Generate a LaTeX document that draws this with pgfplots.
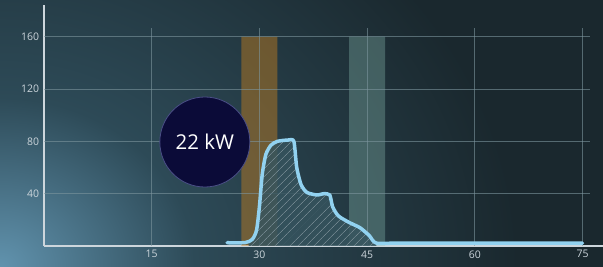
\documentclass[border=0pt]{standalone}
\usepackage{pgfplots}
\pgfplotsset{compat=1.18}
\usepackage{fontspec}
\setmainfont{Open Sans}
\usetikzlibrary{patterns.meta}
\definecolor{bgdark}{HTML}{1A282E}
\definecolor{bgmid}{HTML}{2D4A57}
\definecolor{bglight}{HTML}{6193AE}
\definecolor{gridc}{HTML}{7D969E}
\definecolor{tickc}{HTML}{CDD6DC}
\definecolor{curve}{HTML}{92D2F0}
\definecolor{bubble}{HTML}{0B0B38}
\definecolor{bubbleedge}{HTML}{4A4E86}
\definecolor{bandO}{HTML}{C8801E}
\definecolor{bandG}{HTML}{8FC2B6}
\definecolor{hatchfill}{HTML}{36545E}
\definecolor{hatch}{HTML}{7A8E96}
\pgfdeclareradialshading{bgshade}{\pgfpoint{0bp}{0bp}}{color(0bp)=(bglight); color(9bp)=(bgmid); color(24bp)=(bgdark); color(50bp)=(bgdark)}
\begin{document}
\begin{tikzpicture}
\useasboundingbox (0,0) rectangle (603bp,267bp);
\fill[bgdark] (0,0) rectangle (603bp,267bp);
\begin{scope}
\clip (0,0) rectangle (603bp,267bp);
\shade[shading=bgshade] (0,0) ellipse (540bp and 470bp);
\end{scope}
\begin{axis}[
  scale only axis, width=558.6bp, height=240.7bp,
  at={(44bp,21bp)}, anchor=south west,
  xmin=0, xmax=77.8, ymin=0, ymax=184,
  axis x line=bottom, axis y line=left,
  axis line style={-, draw=tickc, line width=1.3bp},
  xtick={15,30,45,60,75}, ytick={40,80,120,160},
  major tick length=0pt,
  tick label style={font=\fontsize{10.5}{12}\selectfont, text=tickc},
  /pgf/number format/assume math mode=true,
  xticklabel style={yshift=-1bp},
  yticklabel style={xshift=-1.5bp},
]
% bands
\addplot[draw=none, fill=bandO, fill opacity=0.45] coordinates {(27.5,0)(27.5,160)(32.5,160)(32.5,0)} \closedcycle;
\addplot[draw=none, fill=bandG, fill opacity=0.33] coordinates {(42.5,0)(42.5,160)(47.5,160)(47.5,0)} \closedcycle;
% grid
\draw[gridc, line width=0.8bp, opacity=0.6] (axis cs:0,40) -- (axis cs:76,40);
\draw[gridc, line width=0.8bp, opacity=0.6] (axis cs:0,80) -- (axis cs:76,80);
\draw[gridc, line width=0.8bp, opacity=0.6] (axis cs:0,120) -- (axis cs:76,120);
\draw[gridc, line width=0.8bp, opacity=0.6] (axis cs:0,160) -- (axis cs:76,160);
\draw[gridc, line width=0.8bp, opacity=0.6] (axis cs:15,0) -- (axis cs:15,167);
\draw[gridc, line width=0.8bp, opacity=0.6] (axis cs:30,0) -- (axis cs:30,167);
\draw[gridc, line width=0.8bp, opacity=0.6] (axis cs:45,0) -- (axis cs:45,167);
\draw[gridc, line width=0.8bp, opacity=0.6] (axis cs:60,0) -- (axis cs:60,167);
\draw[gridc, line width=0.8bp, opacity=0.6] (axis cs:75,0) -- (axis cs:75,167);
% hatched area
\addplot[draw=none, fill=hatchfill, fill opacity=0.85, smooth, tension=0.4,
  postaction={pattern={Lines[angle=45,distance=6bp,line width=0.7bp]}, pattern color=hatch}]
  coordinates {(28.5,2.2)(29,5)(29.6,12)(30,30)(30.4,55)(30.9,70)(31.6,77)(32.5,80)(34,81)(34.8,80)(35.2,60)(35.8,47)(36.6,41)(38,39)(39,40)(39.8,39)(40.2,30)(41,23)(42.5,18)(44,14)(45.3,8)(46.3,2.2)} \closedcycle;
% curve
\addplot[curve, line width=3.5bp, line join=round, line cap=round, smooth, tension=0.4]
  coordinates {(25.5,2.5)(28,2.6)(29,5)(29.6,12)(30,30)(30.4,55)(30.9,70)(31.6,77)(32.5,80)(34,81)(34.8,80)(35.2,60)(35.8,47)(36.6,41)(38,39)(39,40)(39.8,39)(40.2,30)(41,23)(42.5,18)(44,14)(45.3,8)(46.3,2.2)(50,2.2)(75,2.2)};
\node[circle, fill=bubble, draw=bubbleedge, line width=0.8bp, minimum size=90bp, inner sep=0pt, text=white, font=\fontsize{20.5}{24}\selectfont] at (axis cs:22.4,79.5) {22 kW};
\end{axis}
\end{tikzpicture}
\end{document}
